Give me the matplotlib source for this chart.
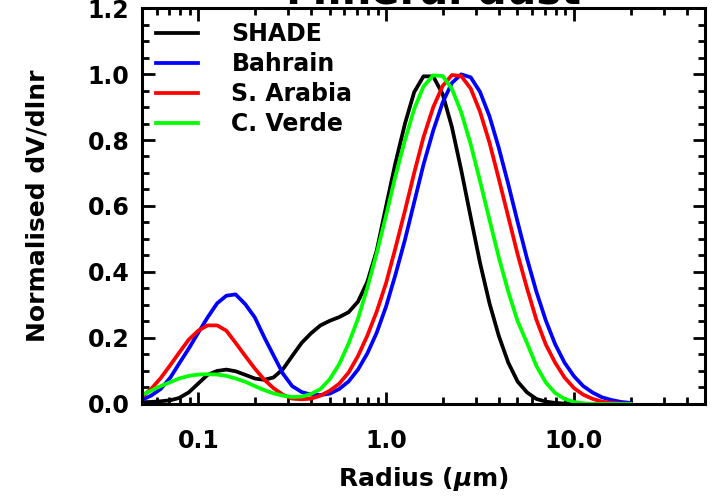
import numpy as np
import matplotlib
matplotlib.use('Agg')
import matplotlib.pyplot as plt
from matplotlib.ticker import LogLocator, MultipleLocator, FixedLocator

# radius grid (um)
radius = [0.050, 0.056, 0.063, 0.071, 0.079, 0.089, 0.100, 0.112, 0.126, 0.141,
          0.158, 0.178, 0.200, 0.224, 0.251, 0.282, 0.316, 0.355, 0.398, 0.447,
          0.501, 0.562, 0.631, 0.708, 0.794, 0.891, 1.00, 1.12, 1.26, 1.41,
          1.58, 1.78, 2.00, 2.24, 2.51, 2.82, 3.16, 3.55, 3.98, 4.47,
          5.01, 5.62, 6.31, 7.08, 7.94, 8.91, 10.0, 11.2, 12.6, 14.1,
          15.8, 17.8, 20.0]

shade = [0.005, 0.006, 0.008, 0.011, 0.018, 0.035, 0.062, 0.088, 0.100, 0.104,
         0.099, 0.088, 0.077, 0.073, 0.080, 0.105, 0.145, 0.185, 0.214, 0.238,
         0.252, 0.263, 0.278, 0.310, 0.370, 0.465, 0.600, 0.730, 0.850, 0.945,
         0.993, 0.993, 0.939, 0.839, 0.709, 0.566, 0.428, 0.305, 0.206, 0.125,
         0.068, 0.035, 0.015, 0.007, 0.003, 0.001, 0.0, 0.0, 0.0, 0.0,
         0.0, 0.0, 0.0]

bahrain = [0.012, 0.025, 0.045, 0.080, 0.122, 0.168, 0.216, 0.262, 0.305, 0.328,
           0.332, 0.302, 0.262, 0.203, 0.148, 0.092, 0.054, 0.036, 0.028, 0.027,
           0.031, 0.045, 0.068, 0.104, 0.153, 0.216, 0.296, 0.391, 0.498, 0.611,
           0.725, 0.828, 0.914, 0.973, 0.999, 0.990, 0.946, 0.872, 0.776, 0.666,
           0.552, 0.441, 0.340, 0.253, 0.181, 0.125, 0.084, 0.054, 0.034, 0.020,
           0.012, 0.006, 0.003]

s_arabia = [0.021, 0.045, 0.078, 0.118, 0.155, 0.195, 0.222, 0.238, 0.238, 0.222,
            0.185, 0.145, 0.107, 0.074, 0.048, 0.028, 0.016, 0.014, 0.016, 0.025,
            0.040, 0.061, 0.095, 0.145, 0.207, 0.280, 0.367, 0.472, 0.586, 0.700,
            0.808, 0.899, 0.964, 0.997, 0.994, 0.956, 0.886, 0.792, 0.682, 0.567,
            0.454, 0.351, 0.255, 0.180, 0.125, 0.080, 0.048, 0.028, 0.015, 0.007,
            0.003, 0.001, 0.0]

c_verde = [0.027, 0.040, 0.054, 0.066, 0.077, 0.085, 0.089, 0.090, 0.089, 0.085,
           0.077, 0.067, 0.054, 0.042, 0.032, 0.025, 0.021, 0.022, 0.030, 0.045,
           0.075, 0.120, 0.183, 0.258, 0.352, 0.457, 0.572, 0.690, 0.800, 0.894,
           0.962, 0.996, 0.994, 0.955, 0.884, 0.787, 0.676, 0.558, 0.444, 0.340,
           0.251, 0.185, 0.115, 0.065, 0.033, 0.015, 0.006, 0.002, 0.0, 0.0,
           0.0, 0.0, 0.0]

labels = ['SHADE', 'Bahrain', 'S. Arabia', 'C. Verde']
colors = ['black', '#0000ff', '#ff0000', '#00ff00']

plt.rcParams['font.family'] = 'DejaVu Sans'
plt.rcParams['font.weight'] = 'bold'
plt.rcParams['mathtext.default'] = 'it'

fig = plt.figure(figsize=(7.16, 5.03), dpi=100)
ax = fig.add_axes([0.198, 0.197, 0.787, 0.787])

for y, lab, c in zip([shade, bahrain, s_arabia, c_verde], labels, colors):
    ax.plot(radius, y, color=c, lw=2.7, label=lab)

ax.set_xscale('log')
ax.set_xlim(0.05, 50)
ax.set_ylim(0, 1.2)

ax.xaxis.set_major_locator(FixedLocator([0.1, 1.0, 10.0]))
ax.set_xticklabels(['0.1', '1.0', '10.0'])
ax.xaxis.set_minor_locator(LogLocator(base=10, subs=np.arange(2, 10)))
ax.xaxis.set_minor_formatter(plt.NullFormatter())
ax.yaxis.set_major_locator(MultipleLocator(0.2))
ax.yaxis.set_minor_locator(MultipleLocator(0.05))
ax.yaxis.set_major_formatter(plt.FormatStrFormatter('%.1f'))

ax.tick_params(which='both', direction='in', top=True, right=True, width=2)
ax.tick_params(which='major', length=9, labelsize=17)
ax.tick_params(which='minor', length=5)
ax.tick_params(axis='x', which='major', pad=18)
ax.tick_params(axis='y', which='major', pad=9)
for s in ax.spines.values():
    s.set_linewidth(2.2)

ax.set_xlabel('Radius ($\\mu$m)', fontsize=18, fontweight='bold', labelpad=9)
ax.set_ylabel('Normalised dV/dlnr', fontsize=18, fontweight='bold', labelpad=27)

ax.legend(loc='upper left', frameon=False, fontsize=17, handlelength=1.8,
          handletextpad=1.4, labelspacing=0.25, borderaxespad=0.3, borderpad=0.3)

fig.text(0.605, 1 - 4 / 503, 'Mineral dust', ha='center', va='baseline',
         fontsize=30, fontweight='bold')

fig.savefig('out.png', dpi=100)
